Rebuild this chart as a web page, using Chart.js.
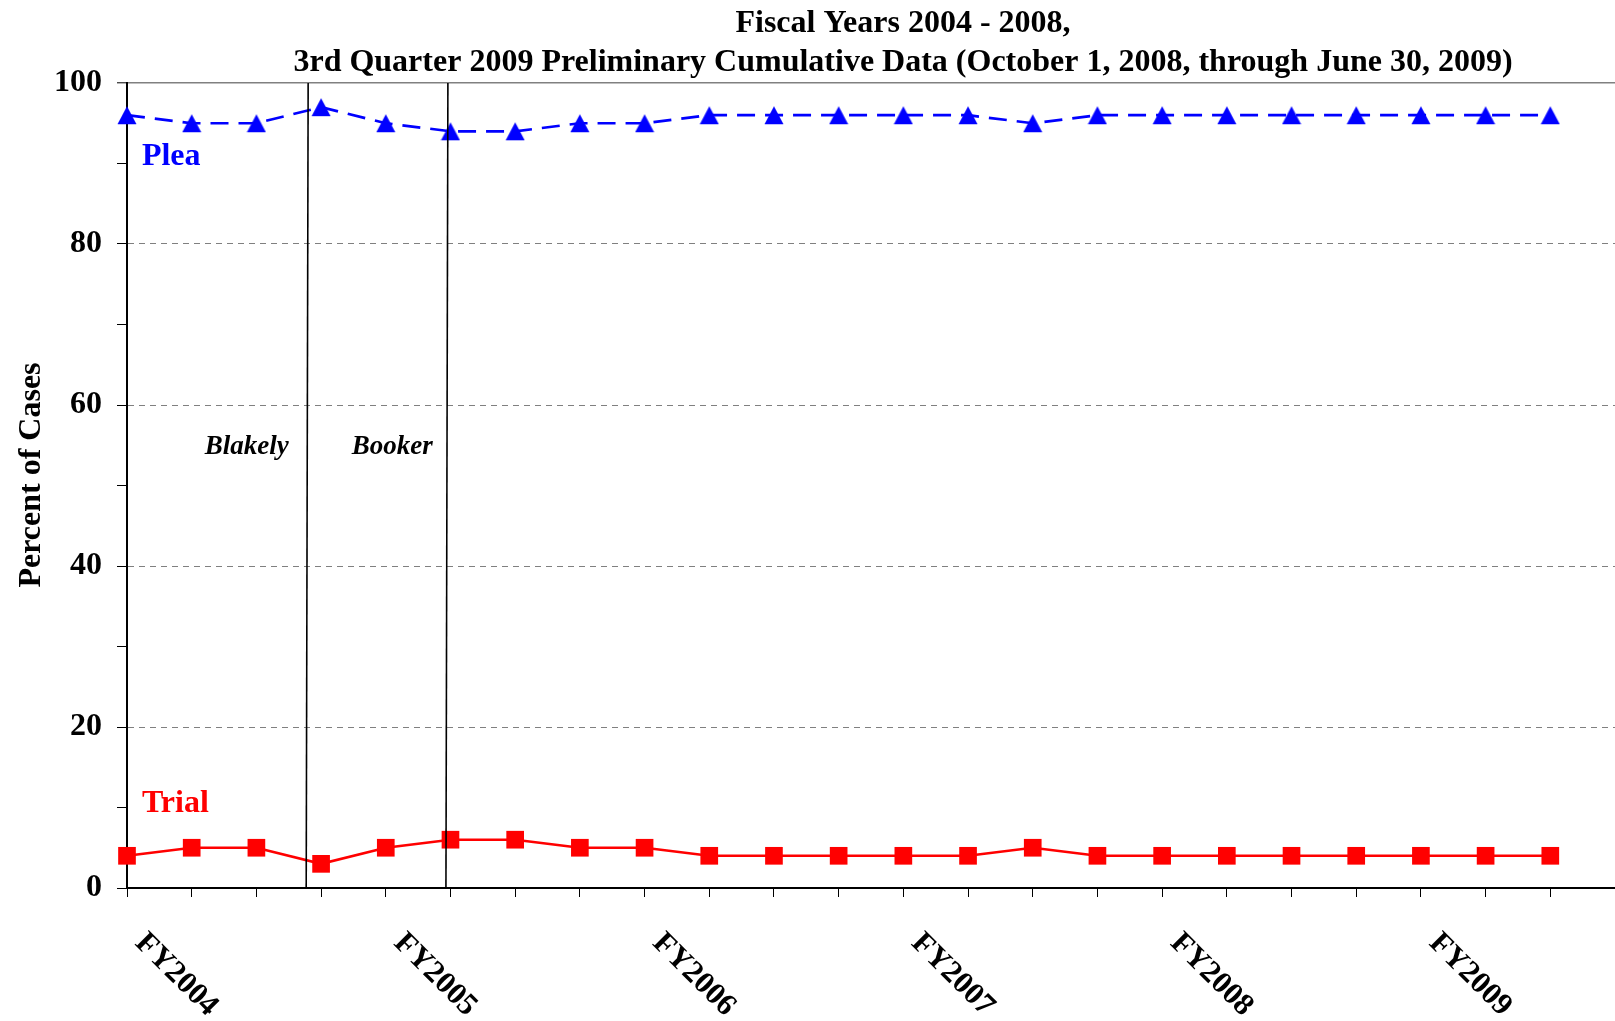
<!DOCTYPE html>
<html><head><meta charset="utf-8">
<script src="https://cdn.jsdelivr.net/npm/chart.js@4/dist/chart.umd.min.js"></script>
<style>html,body{margin:0;padding:0;background:#fff;overflow:hidden;}#wrap{width:1615px;height:1021px;position:relative;}</style>
</head><body><div id="wrap"><canvas id="c" width="1615" height="1021"></canvas></div>
<script>
// ---- data ----
const quarters = ['FY2004 Q1','FY2004 Q2','FY2004 Q3','FY2004 Q4',
  'FY2005 Q1','FY2005 Q2','FY2005 Q3','FY2005 Q4',
  'FY2006 Q1','FY2006 Q2','FY2006 Q3','FY2006 Q4',
  'FY2007 Q1','FY2007 Q2','FY2007 Q3','FY2007 Q4',
  'FY2008 Q1','FY2008 Q2','FY2008 Q3','FY2008 Q4',
  'FY2009 Q1','FY2009 Q2','FY2009 Q3'];
const yearLabels = ['FY2004','FY2005','FY2006','FY2007','FY2008','FY2009'];
const pleaValues  = [96,95,95,97,95,94,94,95,95,96,96,96,96,96,95,96,96,96,96,96,96,96,96];
const trialValues = [4,5,5,3,5,6,6,5,5,4,4,4,4,4,5,4,4,4,4,4,4,4,4];
const eventNames = ['Blakely','Booker'];
const eventTopX = [2.80, 4.96];
const eventBottomX = [2.77, 4.93];
const yTicks = [0,5,10,15,20,25,30,35,40,45,50,55,60,65,70,75,80,85,90,95,100];
const titleLines = ['Fiscal Years 2004 - 2008,','3rd Quarter 2009 Preliminary Cumulative Data (October 1, 2008, through June 30, 2009)'];
const yAxisTitle = 'Percent of Cases';

// ---- styling / layout ----
const SERIF = '"Liberation Serif", "Times New Roman", serif';
const labelSpots = [
  {text:'Plea', x:0.23, y:89.8, color:'#0000FF', font:'bold 32px '+SERIF, align:'left'},
  {text:'Trial', x:0.23, y:9.4, color:'#FF0000', font:'bold 32px '+SERIF, align:'left'},
  {text:eventNames[0], x:1.85, y:53.9, color:'#000', font:'italic bold 27px '+SERIF, align:'center'},
  {text:eventNames[1], x:4.10, y:53.9, color:'#000', font:'italic bold 27px '+SERIF, align:'center'}
];

// centred triangle marker (bounding box centred on the data point)
const tri = document.createElement('canvas');
tri.width = 20; tri.height = 20;
(function () {
  const t = tri.getContext('2d');
  t.fillStyle = '#0000FF';
  t.beginPath(); t.moveTo(10, 1); t.lineTo(19.5, 19); t.lineTo(0.5, 19); t.closePath(); t.fill();
})();

const eventDatasets = eventNames.map((n, i) => ({
  label: n,
  data: [{x: eventTopX[i], y: 100}, {x: eventBottomX[i], y: 0}],
  borderColor: '#000', borderWidth: 1.6, pointRadius: 0, fill: false, clip: false
}));

const textPlugin = {
  id: 'texts',
  afterDraw(chart) {
    const ctx = chart.ctx, xs = chart.scales.x, ys = chart.scales.y;
    ctx.save();
    ctx.fillStyle = '#000';
    // title
    ctx.font = 'bold 32px ' + SERIF;
    ctx.textAlign = 'center'; ctx.textBaseline = 'alphabetic';
    ctx.fillText(titleLines[0], 903, 32);
    ctx.fillText(titleLines[1], 903, 71);
    // y axis title
    ctx.save();
    ctx.translate(40, 475);
    ctx.rotate(-Math.PI / 2);
    ctx.font = 'bold 32px ' + SERIF;
    ctx.textAlign = 'center';
    ctx.fillText(yAxisTitle, 0, 0);
    ctx.restore();
    // x year labels (rotated clockwise)
    ctx.font = 'bold 31px ' + SERIF;
    ctx.textAlign = 'left';
    yearLabels.forEach((lab, k) => {
      const px = xs.getPixelForValue(k * 4);
      ctx.save();
      ctx.translate(px + 7, ys.bottom + 56);
      ctx.rotate(Math.PI / 4);
      ctx.fillText(lab, 0, 0);
      ctx.restore();
    });
    // series / event labels
    labelSpots.forEach(s => {
      ctx.font = s.font; ctx.fillStyle = s.color; ctx.textAlign = s.align;
      ctx.fillText(s.text, xs.getPixelForValue(s.x), ys.getPixelForValue(s.y));
    });
    ctx.restore();
  }
};

new Chart(document.getElementById('c'), {
  type: 'line',
  data: {
    datasets: [
      ...eventDatasets,
      {
        label: 'Plea',
        data: pleaValues.map((v, i) => ({x: i, y: v})),
        borderColor: '#0000FF', backgroundColor: '#0000FF', borderWidth: 2.7,
        borderDash: [18, 10], pointStyle: tri, pointRadius: 10,
        pointBorderWidth: 0, tension: 0, fill: false, clip: false
      },
      {
        label: 'Trial',
        data: trialValues.map((v, i) => ({x: i, y: v})),
        borderColor: '#FF0000', backgroundColor: '#FF0000', borderWidth: 2.6,
        pointStyle: 'rect', pointRadius: 12.5, pointBorderWidth: 0,
        tension: 0, fill: false, clip: false
      }
    ]
  },
  options: {
    responsive: false, animation: false,
    layout: {autoPadding: false, padding: {top: 83, left: 0, right: 0, bottom: 0}},
    plugins: {legend: {display: false}, title: {display: false}, tooltip: {enabled: false}},
    scales: {
      x: {
        type: 'linear', min: 0, max: 23,
        afterBuildTicks: s => { s.ticks = quarters.map((q, i) => ({value: i})); },
        ticks: {display: false},
        grid: {drawOnChartArea: false, drawTicks: true, tickLength: 9, tickColor: '#000', tickWidth: 1},
        border: {display: true, color: '#000', width: 2},
        afterFit: s => { s.height = 1021 - 888; }
      },
      y: {
        min: 0, max: 100,
        afterBuildTicks: s => { s.ticks = yTicks.map(v => ({value: v})); },
        ticks: {
          callback: v => (v % 20 === 0 ? String(v) : ''),
          font: {family: SERIF, size: 32, weight: 'bold'}, color: '#000', padding: 15
        },
        grid: {
          color: c => (c.tick && c.tick.value % 20 === 0 && c.tick.value > 0) ? '#808080' : 'rgba(0,0,0,0)',
          lineWidth: c => (c.tick && c.tick.value === 100) ? 1.6 : 1,
          tickLength: 10, tickColor: '#000', tickWidth: 1
        },
        border: {color: '#000', width: 2, dash: c => (c.tick && c.tick.value === 100) ? [] : [6, 5]},
        afterFit: s => { s.width = 127; }
      }
    }
  },
  plugins: [textPlugin]
});
</script>
</body></html>
